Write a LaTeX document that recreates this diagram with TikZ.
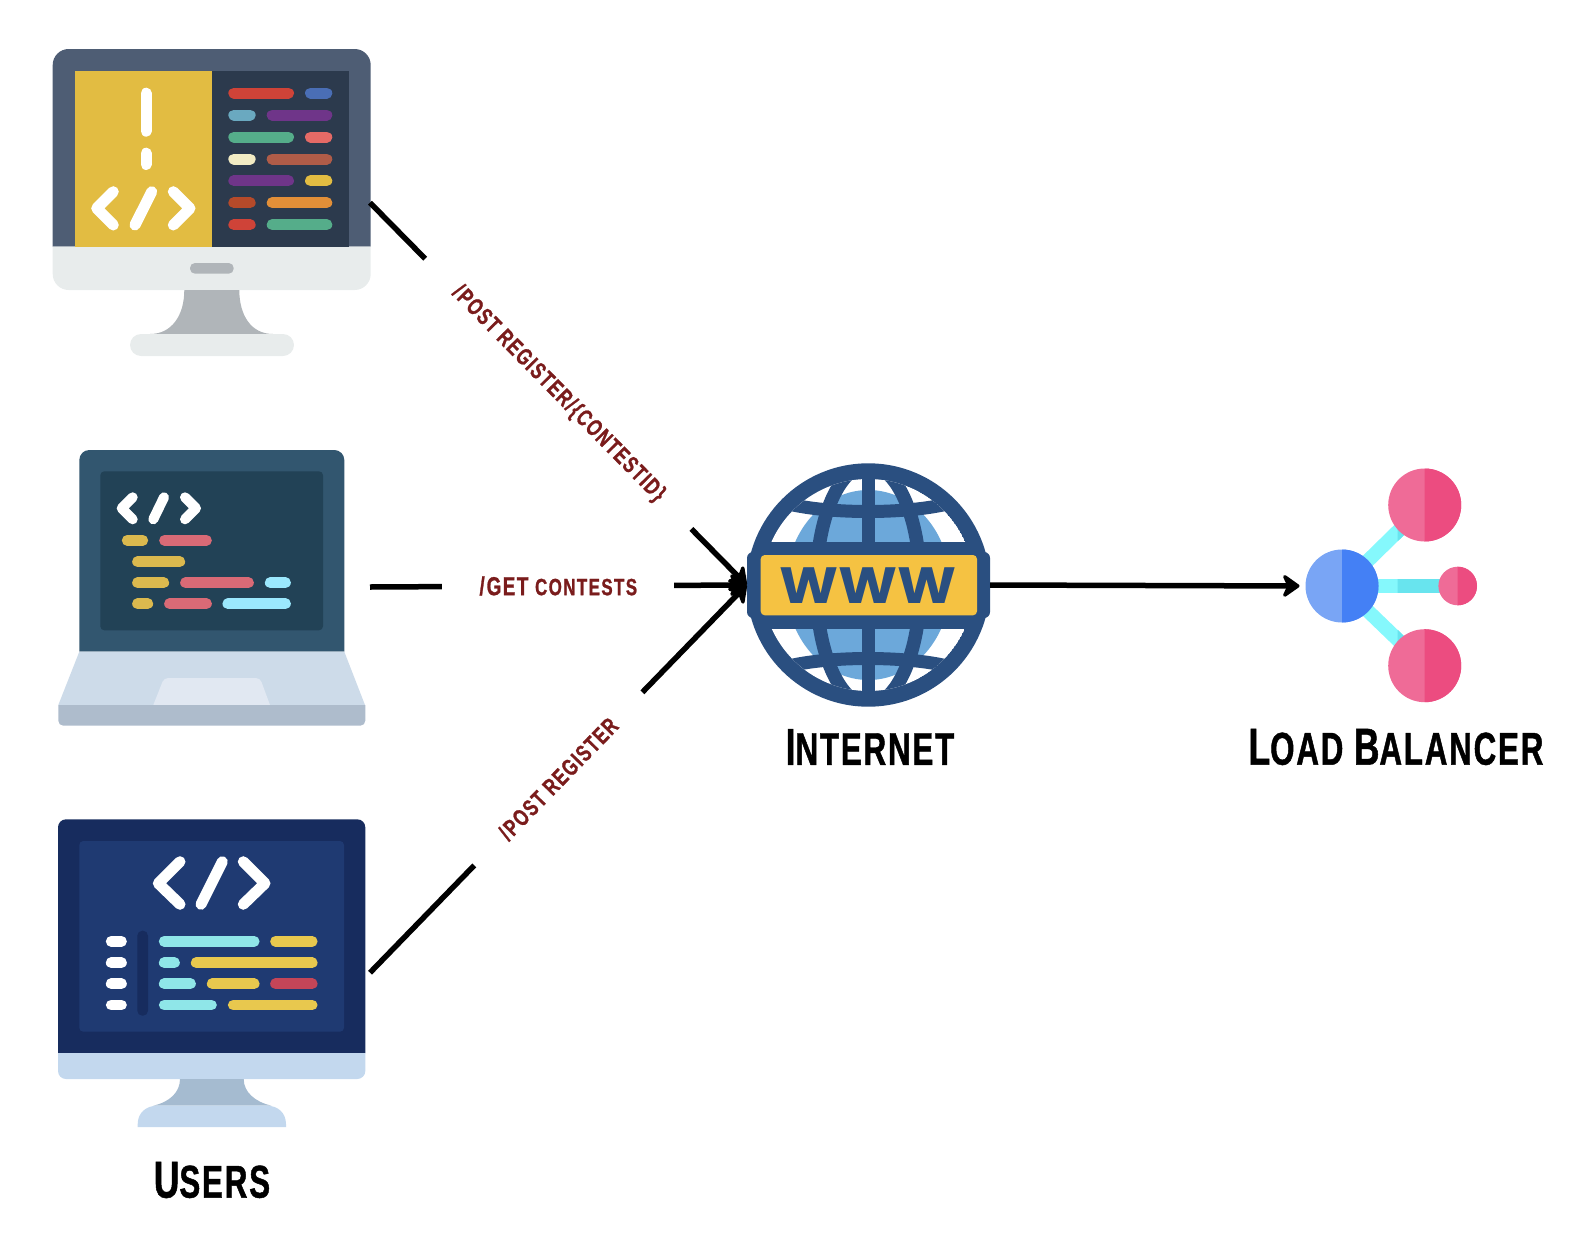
\documentclass[tikz,border=0pt]{standalone}
\usepackage{fontspec}
\usetikzlibrary{arrows.meta}
\newfontfamily\capfont[FakeStretch=0.68, FakeBold=1, LetterSpace=4]{Liberation Sans}
\newfontfamily\routefont[FakeStretch=0.72, FakeBold=1, LetterSpace=6]{Liberation Sans}
\newfontfamily\wwwfont[FakeStretch=1.1]{Poppins}
\definecolor{deskframe}{HTML}{4E5D74}
\definecolor{deskscreen}{HTML}{2C3A4D}
\definecolor{deskyellow}{HTML}{E2BC42}
\definecolor{deskchin}{HTML}{E8ECEC}
\definecolor{deskstand}{HTML}{B0B5B9}
\definecolor{lapframe}{HTML}{32566F}
\definecolor{lapscreen}{HTML}{224256}
\definecolor{lapdeck}{HTML}{CDDBE9}
\definecolor{lappad}{HTML}{E1E8F2}
\definecolor{lapedge}{HTML}{AEBCCC}
\definecolor{edframe}{HTML}{172C5E}
\definecolor{edscreen}{HTML}{1F3A72}
\definecolor{edchin}{HTML}{C3D8EE}
\definecolor{edstand}{HTML}{A5BBD0}
\definecolor{globeblue}{HTML}{2A4F80}
\definecolor{globesea}{HTML}{6CA8DA}
\definecolor{globeband}{HTML}{F5C242}
\definecolor{lbleft}{HTML}{79A5F5}
\definecolor{lbright}{HTML}{4480F5}
\definecolor{pinkleft}{HTML}{EF6B97}
\definecolor{pinkright}{HTML}{EC4C80}
\definecolor{linkcyan}{HTML}{85F8FC}
\definecolor{linkdark}{HTML}{68E4EE}
\definecolor{routered}{HTML}{7A1C1C}
\tikzset{
    codebar/.style={line cap=round, line width=11pt, shorten >=5.5pt, shorten <=5.5pt},
    codemark/.style={draw=white, line cap=round, line join=round, line width=11pt},
    wire/.style={line width=5.5pt, >={Stealth[length=20pt, width=28pt, round]}},
    routelabel/.style={fill=white, inner xsep=0pt, inner ysep=6pt, text=routered},
    iconlabel/.style={font=\capfont\bfseries, inner sep=0pt},
    hub/.style={circle, inner sep=0pt, outer sep=0pt}
}
\newcommand{\bigcaps}{\fontsize{52}{52}\selectfont}
\newcommand{\smallcaps}{\fontsize{46}{46}\selectfont}
\begin{document}
\begin{tikzpicture}[x=1pt, y=-1pt]
        \useasboundingbox (0,0) rectangle (1574,1234);

        % top desktop
        \fill[deskframe] (52.7,246.7) [rounded corners=16pt] -- (52.7,49) -- (370.7,49) [sharp corners] -- (370.7,246.7) -- cycle;
        \fill[deskchin] (52.7,246.7) [rounded corners=16pt] -- (52.7,290) -- (370.7,290) [sharp corners] -- (370.7,246.7) -- cycle;
        \fill[deskyellow] (74.8,70.7) rectangle (212,246.7);
        \fill[deskscreen] (212,70.7) rectangle (349,246.7);
        \fill[deskstand, rounded corners=5pt] (190,263) rectangle (233.7,273.7);
        \fill[deskstand] (184.3,290) .. controls (184.3,315) and (172,334) .. (150,334) -- (273,334) .. controls (251,334) and (239.3,315) .. (239.3,290) -- cycle;
        \fill[deskchin, rounded corners=11pt] (130,334) rectangle (294,356);
        \foreach \xa/\xb/\yy/\col in {
            228.3/294/93/CF4338, 305/332.3/93/4A6EB5,
            228.3/255.7/115/6AA9C0, 266.7/332.3/115/6F3589,
            228.3/294/137/55AD8A, 305/332.3/137/E56A66,
            228.3/255.7/159/F2ECC4, 266.7/332.3/159/B05C48,
            228.3/294/180.7/6F3589, 305/332.3/180.7/E2BC42,
            228.3/255.7/202.7/B54A2A, 266.7/332.3/202.7/E28F38,
            228.3/255.7/224.7/CF4338, 266.7/332.3/224.7/55AD8A}
            {\definecolor{barcol}{HTML}{\col}\draw[codebar, barcol] (\xa,\yy) -- (\xb,\yy);}
        \draw[codemark] (146,93.2) -- (146,131.2);
        \draw[codemark] (146,153.2) -- (146,164.5);
        \draw[codemark] (113.3,191.7) -- (96.7,208.3) -- (113.3,225);
        \draw[codemark] (151.7,191.7) -- (135,225);
        \draw[codemark] (173.3,191.7) -- (190,208.3) -- (173.3,225);

        % laptop
        \fill[lapframe] (79.3,651.7) [rounded corners=10pt] -- (79.3,450) -- (344.3,450) [sharp corners] -- (344.3,651.7) -- cycle;
        \fill[lapscreen, rounded corners=4pt] (100.3,471.3) rectangle (323,630.3);
        \fill[lapdeck] (79.3,651.7) -- (344.3,651.7) -- (365,705) -- (58.3,705) -- cycle;
        \fill[lappad] (153.3,705) [rounded corners=4pt] -- (164,678) -- (260,678) [sharp corners] -- (270,705) -- cycle;
        \fill[lapedge] (58.3,705) [rounded corners=5pt] -- (58.3,725.7) -- (365.3,725.7) [sharp corners] -- (365.3,705) -- cycle;
        \foreach \xa/\xb/\yy/\col in {
            121.7/148.3/540.3/DBB94E, 159/212/540.3/D96A76,
            132/185.3/561.7/DBB94E,
            132/169.3/582.7/DBB94E, 180/254/582.7/D96A76, 264.7/291/582.7/9BE8FD,
            132/153.3/603.7/DBB94E, 164/212/603.7/D96A76, 222.3/291/603.7/9BE8FD}
            {\definecolor{barcol}{HTML}{\col}\draw[codebar, line width=10.7pt, barcol] (\xa,\yy) -- (\xb,\yy);}
        \draw[codemark, line width=10pt] (132.7,497.3) -- (121.7,508.3) -- (132.7,519.3);
        \draw[codemark, line width=10pt] (164,497.3) -- (153.3,519.3);
        \draw[codemark, line width=10pt] (185,497.3) -- (196,508.3) -- (185,519.3);

        % bottom desktop
        \fill[edframe] (58,1053) [rounded corners=8pt] -- (58,819.3) -- (365.3,819.3) [sharp corners] -- (365.3,1053) -- cycle;
        \fill[edchin] (58,1053) [rounded corners=8pt] -- (58,1079) -- (365.3,1079) [sharp corners] -- (365.3,1053) -- cycle;
        \fill[edscreen, rounded corners=4pt] (79.3,841) rectangle (344,1031.7);
        \fill[edstand] (180,1079) .. controls (180,1092) and (170,1102) .. (153,1105.7) -- (271.7,1105.7) .. controls (255,1102) and (243.7,1092) .. (243.7,1079) -- cycle;
        \fill[edchin] (137.7,1127) -- (137.7,1124) .. controls (137.7,1113) and (146,1105.7) .. (157,1105.7) -- (267,1105.7) .. controls (278,1105.7) and (286,1113) .. (286,1124) -- (286,1127) -- cycle;
        \fill[edframe, rounded corners=5pt] (137.3,930.7) rectangle (148,1015.7);
        \foreach \xa/\xb/\yy/\col in {
            105.7/127/941.3/FFFFFF, 158.7/259.7/941.3/8FE6E8, 270/317.7/941.3/E8C84E,
            105.7/127/962.7/FFFFFF, 158.7/180/962.7/8FE6E8, 190.7/317.7/962.7/E8C84E,
            105.7/127/983.7/FFFFFF, 158.7/196/983.7/8FE6E8, 206.7/259.7/983.7/E8C84E, 270/317.7/983.7/C44558,
            105.7/127/1005/FFFFFF, 158.7/217/1005/8FE6E8, 227.7/317.7/1005/E8C84E}
            {\definecolor{barcol}{HTML}{\col}\draw[codebar, line width=10.7pt, barcol] (\xa,\yy) -- (\xb,\yy);}
        \draw[codemark] (180,861.7) -- (158.3,883.3) -- (180,904.3);
        \draw[codemark] (222.3,861.7) -- (201,904.3);
        \draw[codemark] (243.3,861.7) -- (265,883.3) -- (243.3,904.3);
        \node[iconlabel] (users) at (212,1180) {\bigcaps U\smallcaps SERS};

        % globe
        \node[hub, fill=globeblue, minimum size=243.4pt] (globe) at (868.3,585) {};
        \begin{scope}
            \clip (868.3,585) circle [radius=106pt];
            \fill[white] (868.3,585) circle [radius=106pt];
            \fill[globesea] (868.3,585) ellipse [x radius=82pt, y radius=95pt];
            \draw[globeblue, line width=13.5pt] (868.3,585) ellipse [x radius=52pt, y radius=120pt];
            \draw[globeblue, line width=13pt] (868.3,460) -- (868.3,710);
            \draw[globeblue, line width=13pt] (770,498) .. controls (810,516) and (926,516) .. (966,498);
            \draw[globeblue, line width=13pt] (770,672) .. controls (810,654) and (926,654) .. (966,672);
        \end{scope}
        \fill[globeblue, rounded corners=6pt] (747,552) rectangle (990,618);
        \fill[globeblue] (765,541.7) rectangle (972,629);
        \fill[globeband, rounded corners=4pt] (760.7,555) rectangle (977,615.3);
        \node[inner sep=0pt, font=\wwwfont\bfseries\fontsize{51}{51}\selectfont, text=globeblue] (wwwtext) at (868.3,586) {WWW};
        \node[iconlabel] (internet) at (870,747) {\bigcaps I\smallcaps NTERNET};

        % load balancer
        \draw[linkcyan, line width=14pt] (1342,586) -- (1424.7,505);
        \draw[linkcyan, line width=14pt] (1342,586) -- (1424.7,665.7);
        \draw[linkcyan, line width=14pt] (1342,586) -- (1457.7,586);
        \begin{scope}
            \clip (1397.7,480) rectangle (1470,690);
            \draw[linkdark, line width=14pt] (1342,586) -- (1424.7,505);
            \draw[linkdark, line width=14pt] (1342,586) -- (1424.7,665.7);
            \draw[linkdark, line width=14pt] (1342,586) -- (1457.7,586);
        \end{scope}
        \node[hub, fill=lbleft, minimum size=73pt] (balancer) at (1342,586) {};
        \fill[lbright] (1342,549.5) arc [start angle=90, end angle=-90, radius=36.5pt] -- cycle;
        \foreach \hubname/\xx/\yy/\rr in {hubtop/1424.7/505/36.5, hubmid/1457.7/586/19.3, hubbot/1424.7/665.7/36.5}{
            \node[hub, fill=pinkleft, minimum size=2*\rr pt] (\hubname) at (\xx,\yy) {};
            \fill[pinkright] (\xx,\yy-\rr) arc [start angle=90, end angle=-90, radius=\rr pt] -- cycle;
        }
        \node[iconlabel] (lblabel) at (1396,747) {\bigcaps L\smallcaps OAD \bigcaps B\smallcaps ALANCER};

        % connectors
        \coordinate (deskport) at (370,202.7);
        \coordinate (lapport) at (370,587);
        \coordinate (edport) at (370,972.7);
        \draw[wire, ->] (deskport) -- node[routelabel, sloped, minimum width=379pt, font=\routefont\bfseries\fontsize{23.5}{23.5}\selectfont] (postid) {/\kern2pt POST REGISTER/\kern2pt\{CONTESTID\}} (globe.west);
        \draw[wire, ->] (lapport) -- node[routelabel, minimum width=232pt, font=\routefont\bfseries\fontsize{26}{26}\selectfont] (getlist) {/\kern2pt GET \fontsize{23.5}{23.5}\selectfont CONTESTS} (globe.west);
        \draw[wire, ->] (edport) -- node[routelabel, sloped, minimum width=241pt, font=\routefont\bfseries\fontsize{23.5}{23.5}\selectfont] (postreg) {/\kern2pt POST REGISTER} (globe.west);
        \draw[wire, ->, shorten >=6pt] (globe.east) -- (balancer.west);
    \end{tikzpicture}
\end{document}
